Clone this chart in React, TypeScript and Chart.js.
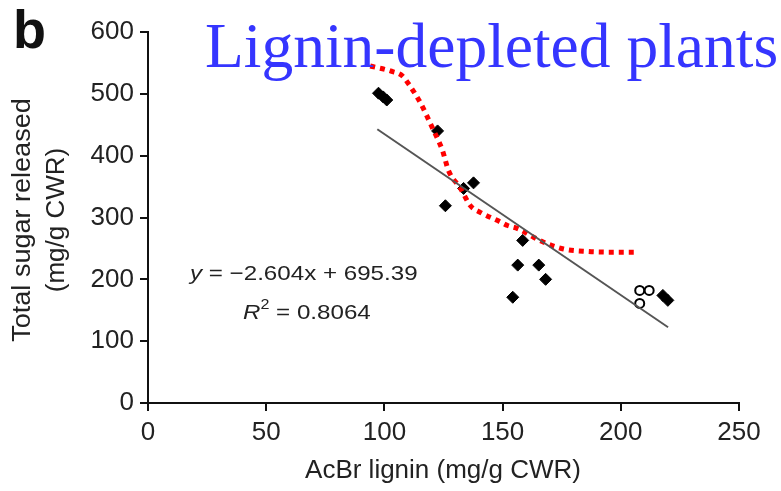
import React, { useEffect, useRef } from "react";
import { Chart, registerables } from "chart.js";
Chart.register(...registerables);

const xTicks = [0, 50, 100, 150, 200, 250];
const yTicks = [0, 100, 200, 300, 400, 500, 600];

const filledX = [97.5, 99.5, 101, 122.5, 125.8, 133.5, 137.7, 158.5, 156.4, 165.3, 168.2, 154.3, 217.8, 219.9];
const filledY = [501, 495, 490, 440, 319, 347, 356, 263, 223, 223, 200, 171, 174, 166];

const openX = [208, 208, 212];
const openY = [182, 161, 182];

const fitX = [97, 220];
const fitY = [442.8, 122.5];

const curveX = [94, 102.5, 107.6, 110.6, 113, 115.3, 120.3, 124.6, 127.1, 132.2, 136.4, 140.7, 147.9, 152.1, 156.4, 163.1, 167.4, 175.8, 186, 194.5, 207.6];
const curveY = [545, 537, 529, 514, 500, 485, 445, 408, 376, 347, 319, 308, 295, 287, 282, 268, 260, 249, 245, 244, 244];

const titleText = "Lignin-depleted plants";
const panelLabel = "b";
const xTitle = "AcBr lignin (mg/g CWR)";
const yTitle1 = "Total sugar released";
const yTitle2 = "(mg/g CWR)";
const eq1 = "= \u22122.604x + 695.39";
const eq2 = " = 0.8064";

const SANS = "'Liberation Sans', Arial, sans-serif";
const SERIF = "'Liberation Serif', 'Times New Roman', serif";
const TXT = "#222";

const textPlugin = {
  id: "texts",
  afterDraw(chart: any) {
    const ctx = chart.ctx;
    ctx.save();
    // panel label
    ctx.fillStyle = "#111";
    ctx.font = `bold 54px ${SANS}`;
    ctx.textAlign = "left";
    ctx.textBaseline = "alphabetic";
    ctx.fillText(panelLabel, 13, 48);
    // axis titles
    ctx.fillStyle = TXT;
    ctx.font = `26px ${SANS}`;
    ctx.textAlign = "center";
    ctx.textBaseline = "middle";
    ctx.fillText(xTitle, 443, 471);
    ctx.save();
    ctx.translate(23, 220);
    ctx.rotate(-Math.PI / 2);
    ctx.scale(1.04, 1);
    ctx.fillText(yTitle1, 0, 0);
    ctx.restore();
    ctx.save();
    ctx.translate(57, 220);
    ctx.rotate(-Math.PI / 2);
    ctx.fillText(yTitle2, 0, 0);
    ctx.restore();
    // equation (slightly widened like the scanned original)
    ctx.textAlign = "left";
    ctx.textBaseline = "alphabetic";
    ctx.save();
    ctx.translate(190, 280);
    ctx.scale(1.15, 1);
    ctx.font = `italic 21px ${SANS}`;
    ctx.fillText("y", 0, 0);
    let w = ctx.measureText("y ").width;
    ctx.font = `21px ${SANS}`;
    ctx.fillText(eq1, w, 0);
    ctx.restore();
    ctx.save();
    ctx.translate(243, 319);
    ctx.scale(1.15, 1);
    ctx.font = `italic 21px ${SANS}`;
    ctx.fillText("R", 0, 0);
    w = ctx.measureText("R").width;
    ctx.font = `14px ${SANS}`;
    ctx.fillText("2", w, -10);
    const w2 = ctx.measureText("2").width;
    ctx.font = `21px ${SANS}`;
    ctx.fillText(eq2, w + w2, 0);
    ctx.restore();
    // title
    ctx.fillStyle = "#3535ff";
    ctx.font = `63.5px ${SERIF}`;
    ctx.fillText(titleText, 205, 67);
    ctx.restore();
  },
};

export default function App() {
  const ref = useRef<HTMLCanvasElement>(null);
  useEffect(() => {
    const canvas = ref.current!;
    const chart = new Chart(canvas, {
      type: "scatter",
      data: {
        datasets: [
          {
            type: "line",
            data: fitX.map((x, i) => ({ x, y: fitY[i] })),
            borderColor: "#555",
            borderWidth: 2,
            pointRadius: 0,
            fill: false,
          } as any,
          {
            type: "line",
            data: curveX.map((x, i) => ({ x, y: curveY[i] })),
            borderColor: "#ff0000",
            borderWidth: 5,
            borderDash: [5, 5],
            borderCapStyle: "butt",
            cubicInterpolationMode: "monotone",
            pointRadius: 0,
            fill: false,
          } as any,
          {
            data: filledX.map((x, i) => ({ x, y: filledY[i] })),
            pointStyle: "rectRot",
            pointRadius: 6,
            backgroundColor: "#000",
            borderColor: "#000",
            borderWidth: 1,
          },
          {
            data: openX.map((x, i) => ({ x, y: openY[i] })),
            pointStyle: "circle",
            pointRadius: 4.5,
            backgroundColor: "#fff",
            borderColor: "#000",
            borderWidth: 2,
          },
        ],
      },
      options: {
        animation: false,
        responsive: false,
        events: [],
        layout: { padding: { top: 32, right: 42, left: 0, bottom: 0 } },
        plugins: { legend: { display: false }, tooltip: { enabled: false } },
        scales: {
          x: {
            type: "linear",
            min: 0,
            max: 250,
            afterBuildTicks: (s: any) => {
              s.ticks = xTicks.map((v) => ({ value: v }));
            },
            afterFit: (s: any) => {
              s.height = 88;
            },
            ticks: { color: TXT, font: { size: 26, family: SANS }, padding: 6, maxRotation: 0 },
            grid: { drawOnChartArea: false, drawTicks: true, tickLength: 8, color: "#111", lineWidth: 2 },
            border: { color: "#111", width: 2 },
          },
          y: {
            type: "linear",
            min: 0,
            max: 600,
            afterBuildTicks: (s: any) => {
              s.ticks = yTicks.map((v) => ({ value: v }));
            },
            afterFit: (s: any) => {
              s.width = 148;
            },
            ticks: { color: TXT, font: { size: 26, family: SANS }, padding: 6 },
            grid: { drawOnChartArea: false, drawTicks: true, tickLength: 8, color: "#111", lineWidth: 2 },
            border: { color: "#111", width: 2 },
          },
        },
      },
      plugins: [textPlugin],
    } as any);
    return () => chart.destroy();
  }, []);
  return (
    <div style={{ position: "absolute", left: 0, top: 0, width: 781, height: 491, background: "#fff" }}>
      <canvas ref={ref} width={781} height={491} style={{ width: 781, height: 491, display: "block" }} />
    </div>
  );
}
